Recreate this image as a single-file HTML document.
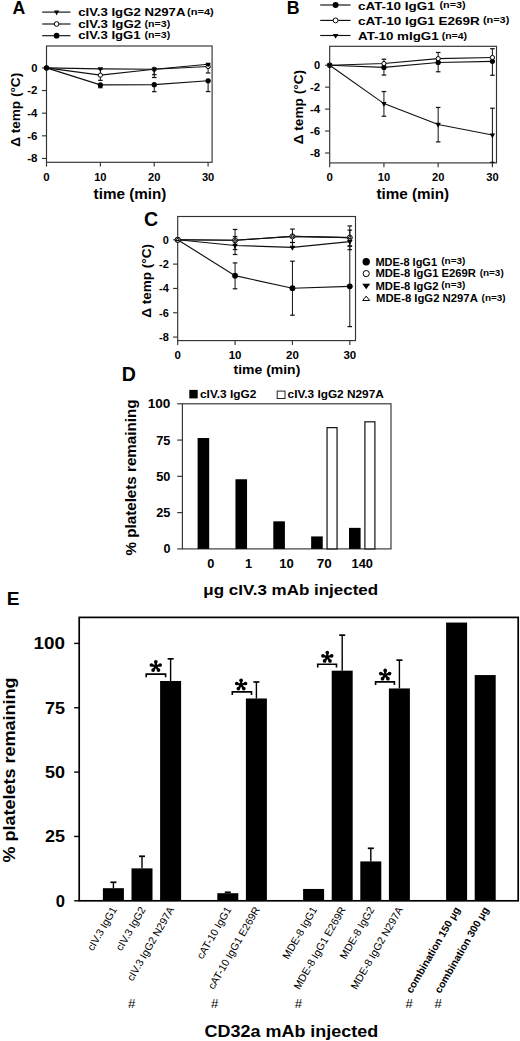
<!DOCTYPE html>
<html><head><meta charset="utf-8"><style>
html,body{margin:0;padding:0;background:#fff;width:520px;height:1041px;overflow:hidden;}
body{position:relative;font-family:"Liberation Sans", sans-serif;}
</style></head><body>
<svg width="520" height="1041" viewBox="0 0 520 1041" style="position:absolute;left:0;top:0">
<g font-family='"Liberation Sans", sans-serif'>
<rect x="46.5" y="46.0" width="165.6" height="116.30000000000001" fill="none" stroke="#333" stroke-width="1.15"/>
<line x1="41.90" y1="67.90" x2="46.50" y2="67.90" stroke="#333" stroke-width="1.15"/>
<text x="37.5" y="71.8" font-size="10.9" font-weight="bold" text-anchor="end" textLength="6.2" lengthAdjust="spacingAndGlyphs">0</text>
<line x1="41.90" y1="90.54" x2="46.50" y2="90.54" stroke="#333" stroke-width="1.15"/>
<text x="37.5" y="94.44" font-size="10.9" font-weight="bold" text-anchor="end" textLength="10.2" lengthAdjust="spacingAndGlyphs">-2</text>
<line x1="41.90" y1="113.18" x2="46.50" y2="113.18" stroke="#333" stroke-width="1.15"/>
<text x="37.5" y="117.08" font-size="10.9" font-weight="bold" text-anchor="end" textLength="10.2" lengthAdjust="spacingAndGlyphs">-4</text>
<line x1="41.90" y1="135.82" x2="46.50" y2="135.82" stroke="#333" stroke-width="1.15"/>
<text x="37.5" y="139.72" font-size="10.9" font-weight="bold" text-anchor="end" textLength="10.2" lengthAdjust="spacingAndGlyphs">-6</text>
<line x1="41.90" y1="158.46" x2="46.50" y2="158.46" stroke="#333" stroke-width="1.15"/>
<text x="37.5" y="162.36" font-size="10.9" font-weight="bold" text-anchor="end" textLength="10.2" lengthAdjust="spacingAndGlyphs">-8</text>
<line x1="46.50" y1="162.30" x2="46.50" y2="166.60" stroke="#333" stroke-width="1.15"/>
<text x="46.5" y="181.2" font-size="10.9" font-weight="bold" text-anchor="middle" textLength="6.4" lengthAdjust="spacingAndGlyphs">0</text>
<line x1="100.37" y1="162.30" x2="100.37" y2="166.60" stroke="#333" stroke-width="1.15"/>
<text x="100.37" y="181.2" font-size="10.9" font-weight="bold" text-anchor="middle" textLength="12.4" lengthAdjust="spacingAndGlyphs">10</text>
<line x1="154.23" y1="162.30" x2="154.23" y2="166.60" stroke="#333" stroke-width="1.15"/>
<text x="154.23" y="181.2" font-size="10.9" font-weight="bold" text-anchor="middle" textLength="12.4" lengthAdjust="spacingAndGlyphs">20</text>
<line x1="208.10" y1="162.30" x2="208.10" y2="166.60" stroke="#333" stroke-width="1.15"/>
<text x="208.1" y="181.2" font-size="10.9" font-weight="bold" text-anchor="middle" textLength="12.4" lengthAdjust="spacingAndGlyphs">30</text>
<line x1="100.37" y1="69.03" x2="100.37" y2="80.35" stroke="#111" stroke-width="1.0"/>
<line x1="98.07" y1="69.03" x2="102.67" y2="69.03" stroke="#111" stroke-width="1.2"/>
<line x1="98.07" y1="80.35" x2="102.67" y2="80.35" stroke="#111" stroke-width="1.2"/>
<line x1="154.23" y1="69.26" x2="154.23" y2="77.52" stroke="#111" stroke-width="1.0"/>
<line x1="151.93" y1="69.26" x2="156.53" y2="69.26" stroke="#111" stroke-width="1.2"/>
<line x1="151.93" y1="77.52" x2="156.53" y2="77.52" stroke="#111" stroke-width="1.2"/>
<line x1="208.10" y1="66.54" x2="208.10" y2="72.99" stroke="#111" stroke-width="1.0"/>
<line x1="205.80" y1="66.54" x2="210.40" y2="66.54" stroke="#111" stroke-width="1.2"/>
<line x1="205.80" y1="72.99" x2="210.40" y2="72.99" stroke="#111" stroke-width="1.2"/>
<line x1="154.23" y1="69.26" x2="154.23" y2="74.69" stroke="#111" stroke-width="1.0"/>
<line x1="151.93" y1="69.26" x2="156.53" y2="69.26" stroke="#111" stroke-width="1.2"/>
<line x1="151.93" y1="74.69" x2="156.53" y2="74.69" stroke="#111" stroke-width="1.2"/>
<line x1="208.10" y1="64.28" x2="208.10" y2="66.77" stroke="#111" stroke-width="1.0"/>
<line x1="205.80" y1="64.28" x2="210.40" y2="64.28" stroke="#111" stroke-width="1.2"/>
<line x1="205.80" y1="66.77" x2="210.40" y2="66.77" stroke="#111" stroke-width="1.2"/>
<line x1="100.37" y1="84.88" x2="100.37" y2="87.71" stroke="#111" stroke-width="1.0"/>
<line x1="98.07" y1="84.88" x2="102.67" y2="84.88" stroke="#111" stroke-width="1.2"/>
<line x1="98.07" y1="87.71" x2="102.67" y2="87.71" stroke="#111" stroke-width="1.2"/>
<line x1="154.23" y1="84.65" x2="154.23" y2="91.67" stroke="#111" stroke-width="1.0"/>
<line x1="151.93" y1="84.65" x2="156.53" y2="84.65" stroke="#111" stroke-width="1.2"/>
<line x1="151.93" y1="91.67" x2="156.53" y2="91.67" stroke="#111" stroke-width="1.2"/>
<line x1="208.10" y1="80.80" x2="208.10" y2="91.56" stroke="#111" stroke-width="1.0"/>
<line x1="205.80" y1="80.80" x2="210.40" y2="80.80" stroke="#111" stroke-width="1.2"/>
<line x1="205.80" y1="91.56" x2="210.40" y2="91.56" stroke="#111" stroke-width="1.2"/>
<polyline points="46.50,67.90 100.37,75.14 154.23,69.26 208.10,66.54" fill="none" stroke="#111" stroke-width="1.15"/>
<polyline points="46.50,67.90 100.37,68.81 154.23,69.26 208.10,64.28" fill="none" stroke="#111" stroke-width="1.15"/>
<polyline points="46.50,67.90 100.37,84.88 154.23,84.65 208.10,80.80" fill="none" stroke="#111" stroke-width="1.15"/>
<circle cx="46.50" cy="67.90" r="2.10" fill="#fff" stroke="#000" stroke-width="1.0"/>
<circle cx="100.37" cy="75.14" r="2.10" fill="#fff" stroke="#000" stroke-width="1.0"/>
<circle cx="154.23" cy="69.26" r="2.10" fill="#fff" stroke="#000" stroke-width="1.0"/>
<circle cx="208.10" cy="66.54" r="2.10" fill="#fff" stroke="#000" stroke-width="1.0"/>
<polygon points="43.83,66.31 49.17,66.31 46.50,71.09" fill="#000"/>
<polygon points="97.70,67.21 103.03,67.21 100.37,72.00" fill="#000"/>
<polygon points="151.57,67.66 156.90,67.66 154.23,72.45" fill="#000"/>
<polygon points="205.43,62.68 210.77,62.68 208.10,67.47" fill="#000"/>
<circle cx="46.50" cy="67.90" r="2.6" fill="#000"/>
<circle cx="100.37" cy="84.88" r="2.6" fill="#000"/>
<circle cx="154.23" cy="84.65" r="2.6" fill="#000"/>
<circle cx="208.10" cy="80.80" r="2.6" fill="#000"/>
<text x="12.4" y="13.7" font-size="17.7" font-weight="bold">A</text>
<line x1="42.20" y1="12.10" x2="70.50" y2="12.10" stroke="#111" stroke-width="1.15"/>
<polygon points="53.98,10.53 59.22,10.53 56.60,15.23" fill="#000"/>
<line x1="42.20" y1="24.00" x2="70.50" y2="24.00" stroke="#111" stroke-width="1.15"/>
<circle cx="56.60" cy="24.00" r="2.35" fill="#fff" stroke="#000" stroke-width="1.0"/>
<line x1="42.20" y1="35.70" x2="70.50" y2="35.70" stroke="#111" stroke-width="1.15"/>
<circle cx="56.60" cy="35.70" r="2.85" fill="#000"/>
<text x="78.2" y="16.3" font-size="10.9" font-weight="bold" textLength="107.3" lengthAdjust="spacingAndGlyphs">cIV.3 IgG2 N297A</text>
<text x="187.1" y="14.8" font-size="9.3" font-weight="bold" textLength="26.7" lengthAdjust="spacingAndGlyphs">(n=4)</text>
<text x="78.2" y="28.1" font-size="10.9" font-weight="bold" textLength="63.0" lengthAdjust="spacingAndGlyphs">cIV.3 IgG2</text>
<text x="144.6" y="26.6" font-size="9.3" font-weight="bold" textLength="25.6" lengthAdjust="spacingAndGlyphs">(n=3)</text>
<text x="78.2" y="39.2" font-size="10.9" font-weight="bold" textLength="62.5" lengthAdjust="spacingAndGlyphs">cIV.3 IgG1</text>
<text x="144.6" y="37.7" font-size="9.3" font-weight="bold" textLength="25.6" lengthAdjust="spacingAndGlyphs">(n=3)</text>
<text x="93.6" y="198.9" font-size="14.3" font-weight="bold" textLength="72.8" lengthAdjust="spacingAndGlyphs">time (min)</text>
<text transform="translate(19.9,109.8) rotate(-90)" font-size="13.0" font-weight="bold" text-anchor="middle" textLength="74.0" lengthAdjust="spacingAndGlyphs">Δ temp (°C)</text>
<rect x="329.7" y="46.3" width="166.8" height="116.60000000000001" fill="none" stroke="#333" stroke-width="1.15"/>
<line x1="325.10" y1="65.20" x2="329.70" y2="65.20" stroke="#333" stroke-width="1.15"/>
<text x="320.2" y="69.1" font-size="10.9" font-weight="bold" text-anchor="end" textLength="6.2" lengthAdjust="spacingAndGlyphs">0</text>
<line x1="325.10" y1="87.15" x2="329.70" y2="87.15" stroke="#333" stroke-width="1.15"/>
<text x="320.2" y="91.05" font-size="10.9" font-weight="bold" text-anchor="end" textLength="10.2" lengthAdjust="spacingAndGlyphs">-2</text>
<line x1="325.10" y1="109.10" x2="329.70" y2="109.10" stroke="#333" stroke-width="1.15"/>
<text x="320.2" y="113.0" font-size="10.9" font-weight="bold" text-anchor="end" textLength="10.2" lengthAdjust="spacingAndGlyphs">-4</text>
<line x1="325.10" y1="131.05" x2="329.70" y2="131.05" stroke="#333" stroke-width="1.15"/>
<text x="320.2" y="134.95" font-size="10.9" font-weight="bold" text-anchor="end" textLength="10.2" lengthAdjust="spacingAndGlyphs">-6</text>
<line x1="325.10" y1="153.00" x2="329.70" y2="153.00" stroke="#333" stroke-width="1.15"/>
<text x="320.2" y="156.9" font-size="10.9" font-weight="bold" text-anchor="end" textLength="10.2" lengthAdjust="spacingAndGlyphs">-8</text>
<line x1="329.70" y1="162.90" x2="329.70" y2="167.20" stroke="#333" stroke-width="1.15"/>
<text x="329.7" y="181.2" font-size="10.9" font-weight="bold" text-anchor="middle" textLength="6.4" lengthAdjust="spacingAndGlyphs">0</text>
<line x1="383.93" y1="162.90" x2="383.93" y2="167.20" stroke="#333" stroke-width="1.15"/>
<text x="383.93" y="181.2" font-size="10.9" font-weight="bold" text-anchor="middle" textLength="12.4" lengthAdjust="spacingAndGlyphs">10</text>
<line x1="438.17" y1="162.90" x2="438.17" y2="167.20" stroke="#333" stroke-width="1.15"/>
<text x="438.17" y="181.2" font-size="10.9" font-weight="bold" text-anchor="middle" textLength="12.4" lengthAdjust="spacingAndGlyphs">20</text>
<line x1="492.40" y1="162.90" x2="492.40" y2="167.20" stroke="#333" stroke-width="1.15"/>
<text x="492.4" y="181.2" font-size="10.9" font-weight="bold" text-anchor="middle" textLength="12.4" lengthAdjust="spacingAndGlyphs">30</text>
<line x1="383.93" y1="67.39" x2="383.93" y2="75.08" stroke="#111" stroke-width="1.0"/>
<line x1="381.63" y1="67.39" x2="386.23" y2="67.39" stroke="#111" stroke-width="1.2"/>
<line x1="381.63" y1="75.08" x2="386.23" y2="75.08" stroke="#111" stroke-width="1.2"/>
<line x1="438.17" y1="62.46" x2="438.17" y2="71.78" stroke="#111" stroke-width="1.0"/>
<line x1="435.87" y1="62.46" x2="440.47" y2="62.46" stroke="#111" stroke-width="1.2"/>
<line x1="435.87" y1="71.78" x2="440.47" y2="71.78" stroke="#111" stroke-width="1.2"/>
<line x1="492.40" y1="61.36" x2="492.40" y2="75.30" stroke="#111" stroke-width="1.0"/>
<line x1="490.10" y1="61.36" x2="494.70" y2="61.36" stroke="#111" stroke-width="1.2"/>
<line x1="490.10" y1="75.30" x2="494.70" y2="75.30" stroke="#111" stroke-width="1.2"/>
<line x1="383.93" y1="59.16" x2="383.93" y2="63.55" stroke="#111" stroke-width="1.0"/>
<line x1="381.63" y1="59.16" x2="386.23" y2="59.16" stroke="#111" stroke-width="1.2"/>
<line x1="381.63" y1="63.55" x2="386.23" y2="63.55" stroke="#111" stroke-width="1.2"/>
<line x1="438.17" y1="52.47" x2="438.17" y2="58.62" stroke="#111" stroke-width="1.0"/>
<line x1="435.87" y1="52.47" x2="440.47" y2="52.47" stroke="#111" stroke-width="1.2"/>
<line x1="435.87" y1="58.62" x2="440.47" y2="58.62" stroke="#111" stroke-width="1.2"/>
<line x1="492.40" y1="48.74" x2="492.40" y2="57.52" stroke="#111" stroke-width="1.0"/>
<line x1="490.10" y1="48.74" x2="494.70" y2="48.74" stroke="#111" stroke-width="1.2"/>
<line x1="490.10" y1="57.52" x2="494.70" y2="57.52" stroke="#111" stroke-width="1.2"/>
<line x1="383.93" y1="91.54" x2="383.93" y2="116.23" stroke="#111" stroke-width="1.0"/>
<line x1="381.63" y1="91.54" x2="386.23" y2="91.54" stroke="#111" stroke-width="1.2"/>
<line x1="381.63" y1="116.23" x2="386.23" y2="116.23" stroke="#111" stroke-width="1.2"/>
<line x1="438.17" y1="107.45" x2="438.17" y2="141.92" stroke="#111" stroke-width="1.0"/>
<line x1="435.87" y1="107.45" x2="440.47" y2="107.45" stroke="#111" stroke-width="1.2"/>
<line x1="435.87" y1="141.92" x2="440.47" y2="141.92" stroke="#111" stroke-width="1.2"/>
<line x1="492.40" y1="108.22" x2="492.40" y2="162.33" stroke="#111" stroke-width="1.0"/>
<line x1="490.10" y1="108.22" x2="494.70" y2="108.22" stroke="#111" stroke-width="1.2"/>
<line x1="490.10" y1="162.33" x2="494.70" y2="162.33" stroke="#111" stroke-width="1.2"/>
<polyline points="329.70,65.20 383.93,67.39 438.17,62.46 492.40,61.36" fill="none" stroke="#111" stroke-width="1.15"/>
<polyline points="329.70,65.20 383.93,63.55 438.17,58.62 492.40,57.52" fill="none" stroke="#111" stroke-width="1.15"/>
<polyline points="329.70,65.20 383.93,103.61 438.17,124.47 492.40,135.00" fill="none" stroke="#111" stroke-width="1.15"/>
<circle cx="329.70" cy="65.20" r="2.6" fill="#000"/>
<circle cx="383.93" cy="67.39" r="2.6" fill="#000"/>
<circle cx="438.17" cy="62.46" r="2.6" fill="#000"/>
<circle cx="492.40" cy="61.36" r="2.6" fill="#000"/>
<circle cx="329.70" cy="65.20" r="2.10" fill="#fff" stroke="#000" stroke-width="1.0"/>
<circle cx="383.93" cy="63.55" r="2.10" fill="#fff" stroke="#000" stroke-width="1.0"/>
<circle cx="438.17" cy="58.62" r="2.10" fill="#fff" stroke="#000" stroke-width="1.0"/>
<circle cx="492.40" cy="57.52" r="2.10" fill="#fff" stroke="#000" stroke-width="1.0"/>
<polygon points="327.03,63.61 332.37,63.61 329.70,68.39" fill="#000"/>
<polygon points="381.27,102.02 386.60,102.02 383.93,106.80" fill="#000"/>
<polygon points="435.50,122.87 440.83,122.87 438.17,127.66" fill="#000"/>
<polygon points="489.73,133.41 495.07,133.41 492.40,138.19" fill="#000"/>
<text x="286.8" y="13.7" font-size="17.7" font-weight="bold">B</text>
<line x1="320.20" y1="5.00" x2="350.60" y2="5.00" stroke="#111" stroke-width="1.15"/>
<circle cx="335.60" cy="5.00" r="2.95" fill="#000"/>
<line x1="320.20" y1="20.40" x2="350.60" y2="20.40" stroke="#111" stroke-width="1.15"/>
<circle cx="335.60" cy="20.40" r="2.45" fill="#fff" stroke="#000" stroke-width="1.0"/>
<line x1="320.20" y1="35.50" x2="350.60" y2="35.50" stroke="#111" stroke-width="1.15"/>
<polygon points="332.89,33.88 338.31,33.88 335.60,38.74" fill="#000"/>
<text x="358.0" y="9.6" font-size="11.0" font-weight="bold" textLength="76.6" lengthAdjust="spacingAndGlyphs">cAT-10 IgG1</text>
<text x="439.5" y="8.2" font-size="9.4" font-weight="bold" textLength="26.2" lengthAdjust="spacingAndGlyphs">(n=3)</text>
<text x="358.0" y="24.8" font-size="11.0" font-weight="bold" textLength="121.8" lengthAdjust="spacingAndGlyphs">cAT-10 IgG1 E269R</text>
<text x="483.0" y="23.4" font-size="9.4" font-weight="bold" textLength="26.3" lengthAdjust="spacingAndGlyphs">(n=3)</text>
<text x="358.0" y="40.0" font-size="11.0" font-weight="bold" textLength="80.7" lengthAdjust="spacingAndGlyphs">AT-10 mIgG1</text>
<text x="441.7" y="38.6" font-size="9.4" font-weight="bold" textLength="25.3" lengthAdjust="spacingAndGlyphs">(n=4)</text>
<text x="376.4" y="198.9" font-size="14.3" font-weight="bold" textLength="72.8" lengthAdjust="spacingAndGlyphs">time (min)</text>
<text transform="translate(302.7,107.1) rotate(-90)" font-size="13.0" font-weight="bold" text-anchor="middle" textLength="74.4" lengthAdjust="spacingAndGlyphs">Δ temp (°C)</text>
<rect x="177.7" y="216.5" width="177.8" height="124.10000000000002" fill="none" stroke="#333" stroke-width="1.15"/>
<line x1="173.10" y1="239.80" x2="177.70" y2="239.80" stroke="#333" stroke-width="1.15"/>
<text x="168.9" y="243.6" font-size="10.8" font-weight="bold" text-anchor="end" textLength="6.1" lengthAdjust="spacingAndGlyphs">0</text>
<line x1="173.10" y1="264.12" x2="177.70" y2="264.12" stroke="#333" stroke-width="1.15"/>
<text x="168.9" y="267.92" font-size="10.8" font-weight="bold" text-anchor="end" textLength="9.8" lengthAdjust="spacingAndGlyphs">-2</text>
<line x1="173.10" y1="288.44" x2="177.70" y2="288.44" stroke="#333" stroke-width="1.15"/>
<text x="168.9" y="292.24" font-size="10.8" font-weight="bold" text-anchor="end" textLength="9.8" lengthAdjust="spacingAndGlyphs">-4</text>
<line x1="173.10" y1="312.76" x2="177.70" y2="312.76" stroke="#333" stroke-width="1.15"/>
<text x="168.9" y="316.56" font-size="10.8" font-weight="bold" text-anchor="end" textLength="9.8" lengthAdjust="spacingAndGlyphs">-6</text>
<line x1="173.10" y1="337.08" x2="177.70" y2="337.08" stroke="#333" stroke-width="1.15"/>
<text x="168.9" y="340.88" font-size="10.8" font-weight="bold" text-anchor="end" textLength="9.8" lengthAdjust="spacingAndGlyphs">-8</text>
<line x1="177.70" y1="340.60" x2="177.70" y2="344.90" stroke="#333" stroke-width="1.15"/>
<text x="177.7" y="358.8" font-size="10.8" font-weight="bold" text-anchor="middle" textLength="6.4" lengthAdjust="spacingAndGlyphs">0</text>
<line x1="235.07" y1="340.60" x2="235.07" y2="344.90" stroke="#333" stroke-width="1.15"/>
<text x="235.07" y="358.8" font-size="10.8" font-weight="bold" text-anchor="middle" textLength="12.8" lengthAdjust="spacingAndGlyphs">10</text>
<line x1="292.43" y1="340.60" x2="292.43" y2="344.90" stroke="#333" stroke-width="1.15"/>
<text x="292.43" y="358.8" font-size="10.8" font-weight="bold" text-anchor="middle" textLength="12.8" lengthAdjust="spacingAndGlyphs">20</text>
<line x1="349.80" y1="340.60" x2="349.80" y2="344.90" stroke="#333" stroke-width="1.15"/>
<text x="349.8" y="358.8" font-size="10.8" font-weight="bold" text-anchor="middle" textLength="12.8" lengthAdjust="spacingAndGlyphs">30</text>
<line x1="235.07" y1="262.90" x2="235.07" y2="288.80" stroke="#111" stroke-width="1.0"/>
<line x1="232.77" y1="262.90" x2="237.37" y2="262.90" stroke="#111" stroke-width="1.2"/>
<line x1="232.77" y1="288.80" x2="237.37" y2="288.80" stroke="#111" stroke-width="1.2"/>
<line x1="292.43" y1="261.20" x2="292.43" y2="315.19" stroke="#111" stroke-width="1.0"/>
<line x1="290.13" y1="261.20" x2="294.73" y2="261.20" stroke="#111" stroke-width="1.2"/>
<line x1="290.13" y1="315.19" x2="294.73" y2="315.19" stroke="#111" stroke-width="1.2"/>
<line x1="349.80" y1="246.12" x2="349.80" y2="326.62" stroke="#111" stroke-width="1.0"/>
<line x1="347.50" y1="246.12" x2="352.10" y2="246.12" stroke="#111" stroke-width="1.2"/>
<line x1="347.50" y1="326.62" x2="352.10" y2="326.62" stroke="#111" stroke-width="1.2"/>
<line x1="235.07" y1="236.52" x2="235.07" y2="254.51" stroke="#111" stroke-width="1.0"/>
<line x1="232.77" y1="236.52" x2="237.37" y2="236.52" stroke="#111" stroke-width="1.2"/>
<line x1="232.77" y1="254.51" x2="237.37" y2="254.51" stroke="#111" stroke-width="1.2"/>
<line x1="292.43" y1="242.48" x2="292.43" y2="247.34" stroke="#111" stroke-width="1.0"/>
<line x1="290.13" y1="242.48" x2="294.73" y2="242.48" stroke="#111" stroke-width="1.2"/>
<line x1="290.13" y1="247.34" x2="294.73" y2="247.34" stroke="#111" stroke-width="1.2"/>
<line x1="349.80" y1="230.19" x2="349.80" y2="246.00" stroke="#111" stroke-width="1.0"/>
<line x1="347.50" y1="230.19" x2="352.10" y2="230.19" stroke="#111" stroke-width="1.2"/>
<line x1="347.50" y1="246.00" x2="352.10" y2="246.00" stroke="#111" stroke-width="1.2"/>
<line x1="235.07" y1="229.46" x2="235.07" y2="249.53" stroke="#111" stroke-width="1.0"/>
<line x1="232.77" y1="229.46" x2="237.37" y2="229.46" stroke="#111" stroke-width="1.2"/>
<line x1="232.77" y1="249.53" x2="237.37" y2="249.53" stroke="#111" stroke-width="1.2"/>
<line x1="292.43" y1="229.10" x2="292.43" y2="242.48" stroke="#111" stroke-width="1.0"/>
<line x1="290.13" y1="229.10" x2="294.73" y2="229.10" stroke="#111" stroke-width="1.2"/>
<line x1="290.13" y1="242.48" x2="294.73" y2="242.48" stroke="#111" stroke-width="1.2"/>
<line x1="349.80" y1="225.94" x2="349.80" y2="249.65" stroke="#111" stroke-width="1.0"/>
<line x1="347.50" y1="225.94" x2="352.10" y2="225.94" stroke="#111" stroke-width="1.2"/>
<line x1="347.50" y1="249.65" x2="352.10" y2="249.65" stroke="#111" stroke-width="1.2"/>
<polyline points="177.70,239.80 235.07,275.67 292.43,288.20 349.80,286.37" fill="none" stroke="#111" stroke-width="1.15"/>
<polyline points="177.70,239.80 235.07,245.52 292.43,247.34 349.80,241.62" fill="none" stroke="#111" stroke-width="1.15"/>
<polyline points="177.70,239.80 235.07,240.29 292.43,236.40 349.80,237.61" fill="none" stroke="#111" stroke-width="1.15"/>
<polyline points="177.70,239.80 235.07,240.29 292.43,236.40 349.80,237.61" fill="none" stroke="#111" stroke-width="1.15"/>
<circle cx="177.70" cy="239.80" r="2.9" fill="#000"/>
<circle cx="235.07" cy="275.67" r="2.9" fill="#000"/>
<circle cx="292.43" cy="288.20" r="2.9" fill="#000"/>
<circle cx="349.80" cy="286.37" r="2.9" fill="#000"/>
<polygon points="174.94,238.15 180.46,238.15 177.70,243.10" fill="#000"/>
<polygon points="232.31,243.87 237.83,243.87 235.07,248.82" fill="#000"/>
<polygon points="289.67,245.69 295.19,245.69 292.43,250.64" fill="#000"/>
<polygon points="347.04,239.97 352.56,239.97 349.80,244.92" fill="#000"/>
<circle cx="177.70" cy="239.80" r="2.50" fill="#fff" stroke="#000" stroke-width="1.0"/>
<circle cx="235.07" cy="240.29" r="2.50" fill="#fff" stroke="#000" stroke-width="1.0"/>
<circle cx="292.43" cy="236.40" r="2.50" fill="#fff" stroke="#000" stroke-width="1.0"/>
<circle cx="349.80" cy="237.61" r="2.50" fill="#fff" stroke="#000" stroke-width="1.0"/>
<polygon points="176.08,240.56 179.32,240.56 177.70,237.77" fill="#fff" stroke="#000" stroke-width="1.0" stroke-linejoin="round"/>
<polygon points="233.45,241.05 236.68,241.05 235.07,238.26" fill="#fff" stroke="#000" stroke-width="1.0" stroke-linejoin="round"/>
<polygon points="290.82,237.16 294.05,237.16 292.43,234.37" fill="#fff" stroke="#000" stroke-width="1.0" stroke-linejoin="round"/>
<polygon points="348.18,238.38 351.42,238.38 349.80,235.58" fill="#fff" stroke="#000" stroke-width="1.0" stroke-linejoin="round"/>
<text x="144.0" y="226.2" font-size="19.6" font-weight="bold">C</text>
<circle cx="366.20" cy="261.80" r="3.7" fill="#000"/>
<circle cx="366.20" cy="273.60" r="3.10" fill="#fff" stroke="#000" stroke-width="1.0"/>
<polygon points="362.20,283.73 370.20,283.73 366.20,289.33" fill="#000"/>
<polygon points="362.70,300.50 369.70,300.50 366.20,296.10" fill="#fff" stroke="#000" stroke-width="1.0" stroke-linejoin="round"/>
<text x="375.4" y="265.5" font-size="10.2" font-weight="bold" textLength="61.6" lengthAdjust="spacingAndGlyphs">MDE-8 IgG1</text>
<text x="441.3" y="264.3" font-size="8.8" font-weight="bold" textLength="24.0" lengthAdjust="spacingAndGlyphs">(n=3)</text>
<text x="375.4" y="277.2" font-size="10.2" font-weight="bold" textLength="100.6" lengthAdjust="spacingAndGlyphs">MDE-8 IgG1 E269R</text>
<text x="479.7" y="276.0" font-size="8.8" font-weight="bold" textLength="24.0" lengthAdjust="spacingAndGlyphs">(n=3)</text>
<text x="375.4" y="289.6" font-size="10.2" font-weight="bold" textLength="63.1" lengthAdjust="spacingAndGlyphs">MDE-8 IgG2</text>
<text x="441.3" y="288.4" font-size="8.8" font-weight="bold" textLength="24.0" lengthAdjust="spacingAndGlyphs">(n=3)</text>
<text x="376.0" y="302.3" font-size="10.2" font-weight="bold" textLength="101.8" lengthAdjust="spacingAndGlyphs">MDE-8 IgG2 N297A</text>
<text x="481.6" y="301.1" font-size="8.8" font-weight="bold" textLength="24.0" lengthAdjust="spacingAndGlyphs">(n=3)</text>
<text x="233.5" y="373.5" font-size="13.4" font-weight="bold" textLength="66.8" lengthAdjust="spacingAndGlyphs">time (min)</text>
<text transform="translate(151.3,280.9) rotate(-90)" font-size="13.0" font-weight="bold" text-anchor="middle" textLength="73.6" lengthAdjust="spacingAndGlyphs">Δ temp (°C)</text>
<rect x="182.4" y="403.8" width="208.6" height="145.09999999999997" fill="none" stroke="#333" stroke-width="1.15"/>
<line x1="177.20" y1="548.90" x2="182.40" y2="548.90" stroke="#333" stroke-width="1.15"/>
<text x="170.4" y="553.4" font-size="12.6" font-weight="bold" text-anchor="end">0</text>
<line x1="177.20" y1="512.62" x2="182.40" y2="512.62" stroke="#333" stroke-width="1.15"/>
<text x="170.4" y="517.12" font-size="12.6" font-weight="bold" text-anchor="end" textLength="14.2" lengthAdjust="spacingAndGlyphs">25</text>
<line x1="177.20" y1="476.35" x2="182.40" y2="476.35" stroke="#333" stroke-width="1.15"/>
<text x="170.4" y="480.85" font-size="12.6" font-weight="bold" text-anchor="end" textLength="14.2" lengthAdjust="spacingAndGlyphs">50</text>
<line x1="177.20" y1="440.07" x2="182.40" y2="440.07" stroke="#333" stroke-width="1.15"/>
<text x="170.4" y="444.57" font-size="12.6" font-weight="bold" text-anchor="end" textLength="14.2" lengthAdjust="spacingAndGlyphs">75</text>
<line x1="177.20" y1="403.80" x2="182.40" y2="403.80" stroke="#333" stroke-width="1.15"/>
<text x="170.4" y="408.3" font-size="12.6" font-weight="bold" text-anchor="end" textLength="22.6" lengthAdjust="spacingAndGlyphs">100</text>
<rect x="197.60" y="438.04" width="11.60" height="110.86" fill="#000"/>
<rect x="235.45" y="479.25" width="11.60" height="69.65" fill="#000"/>
<rect x="273.30" y="521.33" width="11.60" height="27.57" fill="#000"/>
<rect x="311.15" y="536.42" width="11.60" height="12.48" fill="#000"/>
<rect x="349.00" y="527.86" width="11.60" height="21.04" fill="#000"/>
<rect x="327.05" y="427.62" width="10.00" height="121.28" fill="#fff" stroke="#111" stroke-width="1.2"/>
<rect x="364.90" y="421.81" width="10.00" height="127.09" fill="#fff" stroke="#111" stroke-width="1.2"/>
<text x="210.8" y="568.3" font-size="12.8" font-weight="bold" text-anchor="middle">0</text>
<text x="248.65" y="568.3" font-size="12.8" font-weight="bold" text-anchor="middle">1</text>
<text x="286.5" y="568.3" font-size="12.8" font-weight="bold" text-anchor="middle" textLength="14.6" lengthAdjust="spacingAndGlyphs">10</text>
<text x="324.35" y="568.3" font-size="12.8" font-weight="bold" text-anchor="middle" textLength="15.0" lengthAdjust="spacingAndGlyphs">70</text>
<text x="362.2" y="568.3" font-size="12.8" font-weight="bold" text-anchor="middle" textLength="21.4" lengthAdjust="spacingAndGlyphs">140</text>
<rect x="189.30" y="389.90" width="8.40" height="8.50" fill="#000"/>
<text x="200.0" y="397.9" font-size="11.0" font-weight="bold" textLength="56.3" lengthAdjust="spacingAndGlyphs">cIV.3 IgG2</text>
<rect x="277.20" y="391.10" width="7.80" height="7.40" fill="#fff" stroke="#222" stroke-width="1"/>
<text x="287.6" y="397.9" font-size="11.0" font-weight="bold" textLength="96.2" lengthAdjust="spacingAndGlyphs">cIV.3 IgG2 N297A</text>
<text x="121.7" y="380.7" font-size="19.6" font-weight="bold">D</text>
<text x="203.3" y="594.5" font-size="14.5" font-weight="bold" textLength="174.8" lengthAdjust="spacingAndGlyphs">μg cIV.3 mAb injected</text>
<text transform="translate(135.6,477.5) rotate(-90)" font-size="14.7" font-weight="bold" text-anchor="middle" textLength="156" lengthAdjust="spacingAndGlyphs">% platelets  remaining</text>
<rect x="79.2" y="617.4" width="439.00000000000006" height="283.4" fill="none" stroke="#000" stroke-width="1.7"/>
<line x1="74.20" y1="900.80" x2="79.20" y2="900.80" stroke="#000" stroke-width="1.4"/>
<text x="64.9" y="906.6" font-size="16.6" font-weight="bold" text-anchor="end">0</text>
<line x1="74.20" y1="836.45" x2="79.20" y2="836.45" stroke="#000" stroke-width="1.4"/>
<text x="64.9" y="842.25" font-size="16.6" font-weight="bold" text-anchor="end" textLength="20.0" lengthAdjust="spacingAndGlyphs">25</text>
<line x1="74.20" y1="772.10" x2="79.20" y2="772.10" stroke="#000" stroke-width="1.4"/>
<text x="64.9" y="777.9" font-size="16.6" font-weight="bold" text-anchor="end" textLength="20.0" lengthAdjust="spacingAndGlyphs">50</text>
<line x1="74.20" y1="707.75" x2="79.20" y2="707.75" stroke="#000" stroke-width="1.4"/>
<text x="64.9" y="713.55" font-size="16.6" font-weight="bold" text-anchor="end" textLength="20.0" lengthAdjust="spacingAndGlyphs">75</text>
<line x1="74.20" y1="643.40" x2="79.20" y2="643.40" stroke="#000" stroke-width="1.4"/>
<text x="64.9" y="649.2" font-size="16.6" font-weight="bold" text-anchor="end" textLength="31.4" lengthAdjust="spacingAndGlyphs">100</text>
<line x1="113.40" y1="882.27" x2="113.40" y2="888.19" stroke="#000" stroke-width="1.4"/>
<line x1="110.40" y1="882.27" x2="116.40" y2="882.27" stroke="#000" stroke-width="1.7"/>
<rect x="102.90" y="888.19" width="21.00" height="12.61" fill="#000"/>
<line x1="142.00" y1="856.27" x2="142.00" y2="868.37" stroke="#000" stroke-width="1.4"/>
<line x1="139.00" y1="856.27" x2="145.00" y2="856.27" stroke="#000" stroke-width="1.7"/>
<rect x="131.50" y="868.37" width="21.00" height="32.43" fill="#000"/>
<line x1="170.60" y1="658.84" x2="170.60" y2="680.98" stroke="#000" stroke-width="1.4"/>
<line x1="167.60" y1="658.84" x2="173.60" y2="658.84" stroke="#000" stroke-width="1.7"/>
<rect x="160.10" y="680.98" width="21.00" height="219.82" fill="#000"/>
<line x1="227.80" y1="892.31" x2="227.80" y2="893.21" stroke="#000" stroke-width="1.4"/>
<line x1="224.80" y1="892.31" x2="230.80" y2="892.31" stroke="#000" stroke-width="1.7"/>
<rect x="217.30" y="893.21" width="21.00" height="7.59" fill="#000"/>
<line x1="256.40" y1="682.01" x2="256.40" y2="698.48" stroke="#000" stroke-width="1.4"/>
<line x1="253.40" y1="682.01" x2="259.40" y2="682.01" stroke="#000" stroke-width="1.7"/>
<rect x="245.90" y="698.48" width="21.00" height="202.32" fill="#000"/>
<rect x="303.10" y="888.96" width="21.00" height="11.84" fill="#000"/>
<line x1="342.20" y1="635.16" x2="342.20" y2="670.68" stroke="#000" stroke-width="1.4"/>
<line x1="339.20" y1="635.16" x2="345.20" y2="635.16" stroke="#000" stroke-width="1.7"/>
<rect x="331.70" y="670.68" width="21.00" height="230.12" fill="#000"/>
<line x1="370.80" y1="848.29" x2="370.80" y2="861.42" stroke="#000" stroke-width="1.4"/>
<line x1="367.80" y1="848.29" x2="373.80" y2="848.29" stroke="#000" stroke-width="1.7"/>
<rect x="360.30" y="861.42" width="21.00" height="39.38" fill="#000"/>
<line x1="399.40" y1="660.13" x2="399.40" y2="688.44" stroke="#000" stroke-width="1.4"/>
<line x1="396.40" y1="660.13" x2="402.40" y2="660.13" stroke="#000" stroke-width="1.7"/>
<rect x="388.90" y="688.44" width="21.00" height="212.36" fill="#000"/>
<rect x="446.10" y="622.55" width="21.00" height="278.25" fill="#000"/>
<rect x="474.70" y="675.06" width="21.00" height="225.74" fill="#000"/>
<path d="M146.2,677.3000000000001 V674.1 H165.6 V677.3000000000001" fill="none" stroke="#000" stroke-width="1.6"/>
<line x1="155.80" y1="666.40" x2="155.80" y2="661.80" stroke="#000" stroke-width="2.3"/>
<circle cx="155.80" cy="661.80" r="1.85" fill="#000"/>
<line x1="155.80" y1="666.40" x2="160.17" y2="664.98" stroke="#000" stroke-width="2.3"/>
<circle cx="160.17" cy="664.98" r="1.85" fill="#000"/>
<line x1="155.80" y1="666.40" x2="158.50" y2="670.12" stroke="#000" stroke-width="2.3"/>
<circle cx="158.50" cy="670.12" r="1.85" fill="#000"/>
<line x1="155.80" y1="666.40" x2="153.10" y2="670.12" stroke="#000" stroke-width="2.3"/>
<circle cx="153.10" cy="670.12" r="1.85" fill="#000"/>
<line x1="155.80" y1="666.40" x2="151.43" y2="664.98" stroke="#000" stroke-width="2.3"/>
<circle cx="151.43" cy="664.98" r="1.85" fill="#000"/>
<circle cx="155.80" cy="666.40" r="1.6" fill="#000"/>
<path d="M232.3,695.1 V691.9 H251.5 V695.1" fill="none" stroke="#000" stroke-width="1.6"/>
<line x1="241.10" y1="684.90" x2="241.10" y2="680.30" stroke="#000" stroke-width="2.3"/>
<circle cx="241.10" cy="680.30" r="1.85" fill="#000"/>
<line x1="241.10" y1="684.90" x2="245.47" y2="683.48" stroke="#000" stroke-width="2.3"/>
<circle cx="245.47" cy="683.48" r="1.85" fill="#000"/>
<line x1="241.10" y1="684.90" x2="243.80" y2="688.62" stroke="#000" stroke-width="2.3"/>
<circle cx="243.80" cy="688.62" r="1.85" fill="#000"/>
<line x1="241.10" y1="684.90" x2="238.40" y2="688.62" stroke="#000" stroke-width="2.3"/>
<circle cx="238.40" cy="688.62" r="1.85" fill="#000"/>
<line x1="241.10" y1="684.90" x2="236.73" y2="683.48" stroke="#000" stroke-width="2.3"/>
<circle cx="236.73" cy="683.48" r="1.85" fill="#000"/>
<circle cx="241.10" cy="684.90" r="1.6" fill="#000"/>
<path d="M317.7,667.5 V664.3 H336.5 V667.5" fill="none" stroke="#000" stroke-width="1.6"/>
<line x1="327.30" y1="657.20" x2="327.30" y2="652.60" stroke="#000" stroke-width="2.3"/>
<circle cx="327.30" cy="652.60" r="1.85" fill="#000"/>
<line x1="327.30" y1="657.20" x2="331.67" y2="655.78" stroke="#000" stroke-width="2.3"/>
<circle cx="331.67" cy="655.78" r="1.85" fill="#000"/>
<line x1="327.30" y1="657.20" x2="330.00" y2="660.92" stroke="#000" stroke-width="2.3"/>
<circle cx="330.00" cy="660.92" r="1.85" fill="#000"/>
<line x1="327.30" y1="657.20" x2="324.60" y2="660.92" stroke="#000" stroke-width="2.3"/>
<circle cx="324.60" cy="660.92" r="1.85" fill="#000"/>
<line x1="327.30" y1="657.20" x2="322.93" y2="655.78" stroke="#000" stroke-width="2.3"/>
<circle cx="322.93" cy="655.78" r="1.85" fill="#000"/>
<circle cx="327.30" cy="657.20" r="1.6" fill="#000"/>
<path d="M375.6,685.1 V681.9 H394.4 V685.1" fill="none" stroke="#000" stroke-width="1.6"/>
<line x1="385.20" y1="675.00" x2="385.20" y2="670.40" stroke="#000" stroke-width="2.3"/>
<circle cx="385.20" cy="670.40" r="1.85" fill="#000"/>
<line x1="385.20" y1="675.00" x2="389.57" y2="673.58" stroke="#000" stroke-width="2.3"/>
<circle cx="389.57" cy="673.58" r="1.85" fill="#000"/>
<line x1="385.20" y1="675.00" x2="387.90" y2="678.72" stroke="#000" stroke-width="2.3"/>
<circle cx="387.90" cy="678.72" r="1.85" fill="#000"/>
<line x1="385.20" y1="675.00" x2="382.50" y2="678.72" stroke="#000" stroke-width="2.3"/>
<circle cx="382.50" cy="678.72" r="1.85" fill="#000"/>
<line x1="385.20" y1="675.00" x2="380.83" y2="673.58" stroke="#000" stroke-width="2.3"/>
<circle cx="380.83" cy="673.58" r="1.85" fill="#000"/>
<circle cx="385.20" cy="675.00" r="1.6" fill="#000"/>
<text transform="translate(117.3,909.4) rotate(-60)" font-size="10.5" font-weight="normal" text-anchor="end">cIV.3 IgG1</text>
<text transform="translate(145.9,909.4) rotate(-60)" font-size="10.5" font-weight="normal" text-anchor="end">cIV.3 IgG2</text>
<text transform="translate(174.5,909.4) rotate(-60)" font-size="10.5" font-weight="normal" text-anchor="end">cIV.3 IgG2 N297A</text>
<text transform="translate(231.7,909.4) rotate(-60)" font-size="10.5" font-weight="normal" text-anchor="end">cAT-10 IgG1</text>
<text transform="translate(260.3,909.4) rotate(-60)" font-size="10.5" font-weight="normal" text-anchor="end">cAT-10 IgG1 E269R</text>
<text transform="translate(317.5,909.4) rotate(-60)" font-size="10.5" font-weight="normal" text-anchor="end">MDE-8 IgG1</text>
<text transform="translate(346.1,909.4) rotate(-60)" font-size="10.5" font-weight="normal" text-anchor="end">MDE-8 IgG1 E269R</text>
<text transform="translate(374.7,909.4) rotate(-60)" font-size="10.5" font-weight="normal" text-anchor="end">MDE-8 IgG2</text>
<text transform="translate(403.3,909.4) rotate(-60)" font-size="10.5" font-weight="normal" text-anchor="end">MDE-8 IgG2 N297A</text>
<text transform="translate(460.5,909.4) rotate(-60)" font-size="10.4" font-weight="bold" text-anchor="end">combination 150 μg</text>
<text transform="translate(489.1,909.4) rotate(-60)" font-size="10.4" font-weight="bold" text-anchor="end">combination 300 μg</text>
<text x="131.6" y="1008.3" font-size="13.2" font-weight="normal" text-anchor="middle">#</text>
<text x="214.7" y="1008.3" font-size="13.2" font-weight="normal" text-anchor="middle">#</text>
<text x="298.4" y="1008.3" font-size="13.2" font-weight="normal" text-anchor="middle">#</text>
<text x="409.2" y="1008.3" font-size="13.2" font-weight="normal" text-anchor="middle">#</text>
<text x="438.2" y="1008.3" font-size="13.2" font-weight="normal" text-anchor="middle">#</text>
<text x="204.6" y="1037.2" font-size="17.0" font-weight="bold" textLength="173.6" lengthAdjust="spacingAndGlyphs">CD32a mAb injected</text>
<text x="6.7" y="604.6" font-size="19.2" font-weight="bold">E</text>
<text transform="translate(14.7,770.0) rotate(-90)" font-size="16.2" font-weight="bold" text-anchor="middle" textLength="185.0" lengthAdjust="spacingAndGlyphs">% platelets remaining</text>
</g></svg>
</body></html>
